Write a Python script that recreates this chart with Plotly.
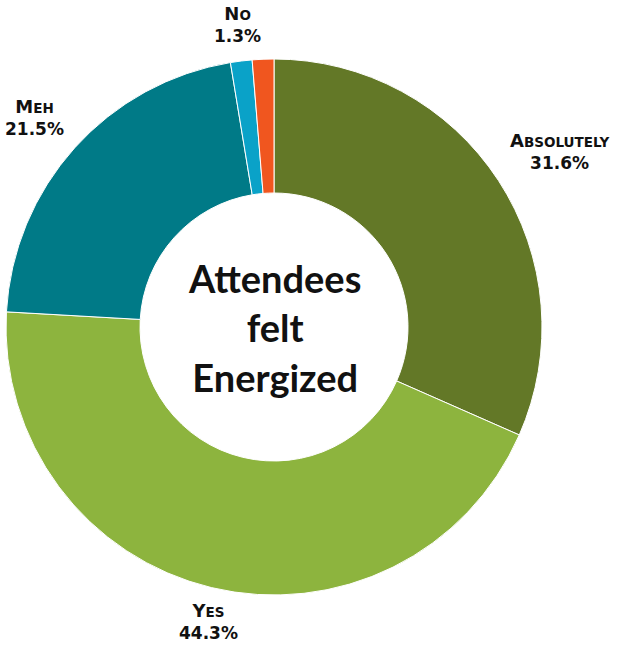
import math
import plotly.graph_objects as go

categories = ["Absolutely", "Yes", "Meh", "Unknown", "No"]
values = [31.6, 44.3, 21.5, 1.3, 1.3]
show_label = [True, True, True, False, True]
colors = ["#637827", "#8DB43E", "#007A87", "#0AA2C8", "#F0561F"]
center_text = ["Attendees", "felt", "Energized"]

W, H = 621, 650
CX, CY, R = 274, 327, 268          # pie centre / radius in figure pixels
LABEL_R = 279                      # distance of label anchor from centre


def small_caps(word):
    return ("<span style='font-size:18px'>" + word[0].upper() + "</span>"
            "<span style='font-size:13.5px'>" + word[1:].upper() + "</span>")


fig = go.Figure(go.Pie(
    labels=categories,
    values=values,
    sort=False,
    direction="clockwise",
    rotation=0,
    hole=0.5,
    marker=dict(colors=colors, line=dict(color="white", width=1)),
    textinfo="none",
    hoverinfo="label+percent",
    showlegend=False,
    domain=dict(x=[(CX - R) / W, (CX + R) / W], y=[1 - (CY + R) / H, 1 - (CY - R) / H]),
))

total = sum(values)
cum = 0.0
for cat, val, show in zip(categories, values, show_label):
    mid = (cum + val / 2) / total * 2 * math.pi
    cum += val
    if not show:
        continue
    s, c = math.sin(mid), math.cos(mid)
    if abs(s) >= 0.3:
        xa = "left" if s > 0 else "right"
    elif c > 0:
        xa = "right" if s < 0 else "left"
    else:
        xa = "center"
    ya = "bottom" if c > 0.3 else ("top" if c < -0.3 else "middle")
    fig.add_annotation(
        x=(CX + LABEL_R * s) / W, y=1 - (CY - LABEL_R * c) / H,
        xref="paper", yref="paper", xanchor=xa, yanchor=ya,
        text="<b>" + small_caps(cat) + "</b><br><b>%.1f%%</b>" % val,
        showarrow=False, align="center",
        font=dict(family="DejaVu Sans", size=17, color="#111111"),
    )

fig.add_annotation(
    x=CX / W, y=1 - CY / H, xref="paper", yref="paper",
    text="<b>" + "<br>".join(center_text) + "</b>",
    showarrow=False,
    font=dict(family="Lato", size=38, color="#111111"),
    align="center",
)

fig.update_layout(
    width=W, height=H,
    margin=dict(l=0, r=0, t=0, b=0),
    paper_bgcolor="white",
    plot_bgcolor="white",
)

fig.write_html("out.html", config={"displayModeBar": False},
               post_script="document.body.style.margin='0';")
